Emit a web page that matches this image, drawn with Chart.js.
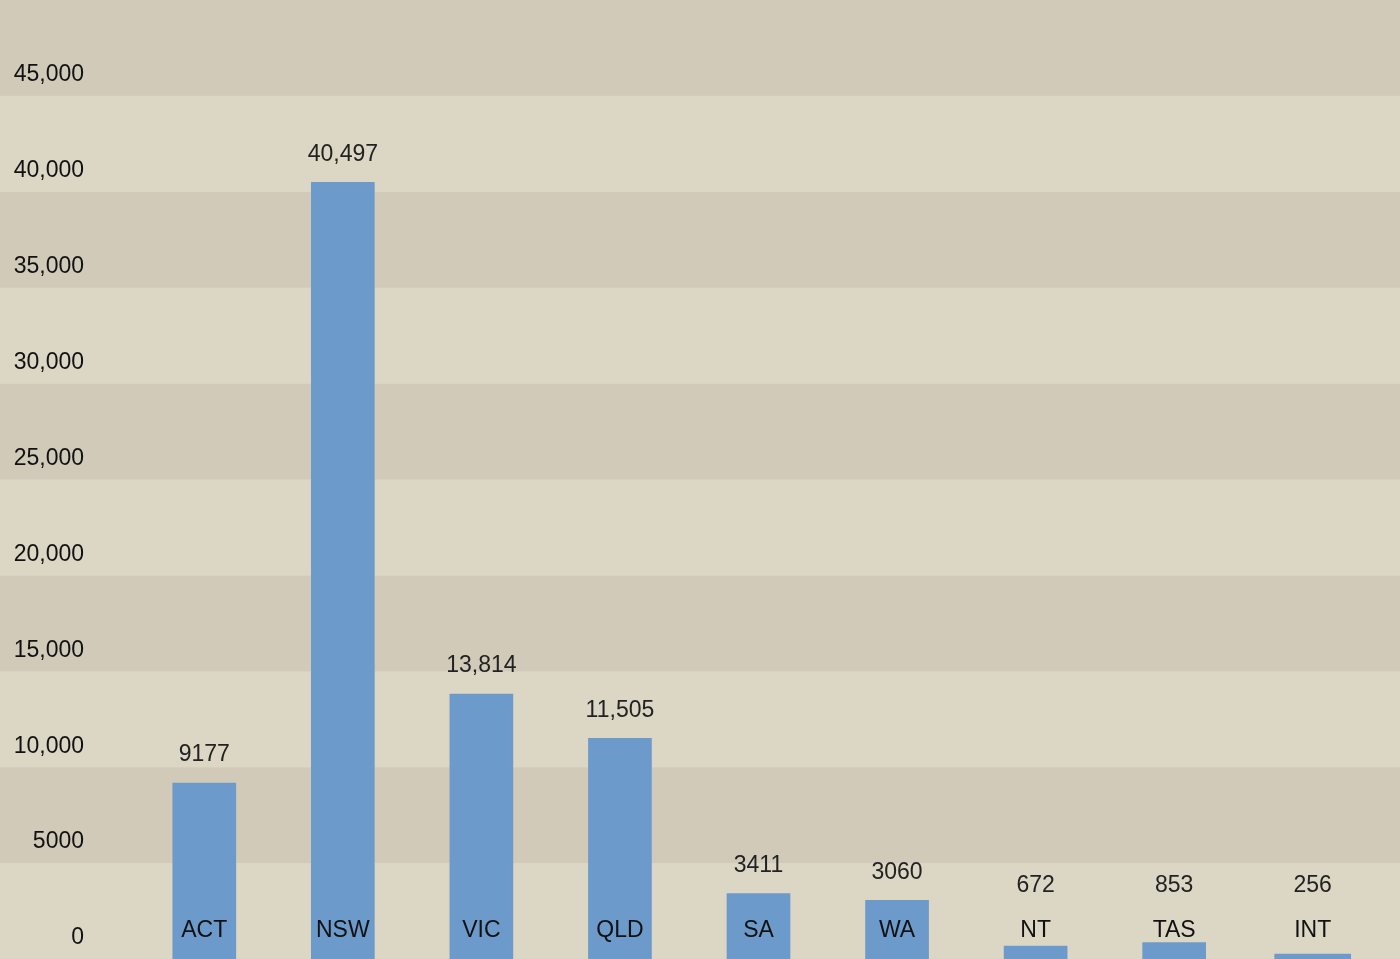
<!DOCTYPE html>
<html>
<head>
<meta charset="utf-8">
<script src="https://cdn.jsdelivr.net/npm/chart.js@4/dist/chart.umd.min.js"></script>
<style>
  html, body { margin: 0; padding: 0; background: #dcd6c4; }
  #wrap { width: 1400px; height: 959px; }
</style>
</head>
<body>
<div id="wrap"><canvas id="statesChart"></canvas></div>
<script>
const states = ['ACT', 'NSW', 'VIC', 'QLD', 'SA', 'WA', 'NT', 'TAS', 'INT'];
const counts = [9177, 40497, 13814, 11505, 3411, 3060, 672, 853, 256];
const yTicks = [0, 5000, 10000, 15000, 20000, 25000, 30000, 35000, 40000, 45000, 50000];

const FONT = '"Liberation Sans", Arial, sans-serif';
const bandDark = '#d1cab9';
const bandLight = '#dcd6c4';
const barColor = '#6c9acb';

function fmt(v) {
  return v >= 10000 ? v.toLocaleString('en-US') : String(v);
}

// INT is drawn a little wider than the others
const mainData = counts.map((v, i) => states[i] === 'INT' ? null : v);
const intData = counts.map((v, i) => states[i] === 'INT' ? v : null);

const bands = {
  id: 'bands',
  beforeDraw(chart) {
    const c = chart.ctx, y = chart.scales.y;
    c.save();
    for (let k = 0; k < yTicks.length - 1; k++) {
      const top = y.getPixelForValue(yTicks[k + 1]);
      const bottom = y.getPixelForValue(yTicks[k]);
      c.fillStyle = k % 2 ? bandDark : bandLight;
      c.fillRect(0, top, chart.width, bottom - top);
    }
    c.restore();
  }
};

const labels = {
  id: 'labels',
  afterDatasetsDraw(chart) {
    const c = chart.ctx, x = chart.scales.x, y = chart.scales.y;
    c.save();
    c.font = '23px ' + FONT;
    c.textAlign = 'center';
    c.textBaseline = 'middle';
    counts.forEach((v, i) => {
      const cx = x.getPixelForValue(i);
      const top = y.getPixelForValue(v);
      c.fillStyle = '#222';
      c.fillText(fmt(v), cx, Math.min(top - 28, 886));
      c.fillStyle = '#111';
      c.fillText(states[i], cx, 931);
    });
    c.restore();
  }
};

new Chart(document.getElementById('statesChart'), {
  type: 'bar',
  data: {
    labels: states,
    datasets: [{
      data: mainData,
      backgroundColor: barColor,
      barThickness: 63,
      grouped: false
    }, {
      data: intData,
      backgroundColor: barColor,
      barThickness: 76,
      grouped: false
    }]
  },
  options: {
    responsive: true,
    maintainAspectRatio: false,
    animation: false,
    layout: { padding: { left: 0, right: 18, top: 0, bottom: 0 } },
    plugins: {
      legend: { display: false },
      tooltip: { enabled: false }
    },
    scales: {
      x: { display: false },
      y: {
        min: 0,
        max: 50000,
        afterBuildTicks(scale) {
          scale.ticks = yTicks.map(v => ({ value: v }));
        },
        afterFit(scale) {
          scale.width = 135;
          scale.paddingTop = 0;
          scale.paddingBottom = 0;
        },
        grid: { display: false, drawTicks: false },
        border: { display: false },
        ticks: {
          padding: 51,
          labelOffset: -21,
          color: '#111',
          font: { family: FONT, size: 23 },
          callback: v => v >= 50000 ? '' : fmt(v)
        }
      }
    }
  },
  plugins: [bands, labels]
});
</script>
</body>
</html>
